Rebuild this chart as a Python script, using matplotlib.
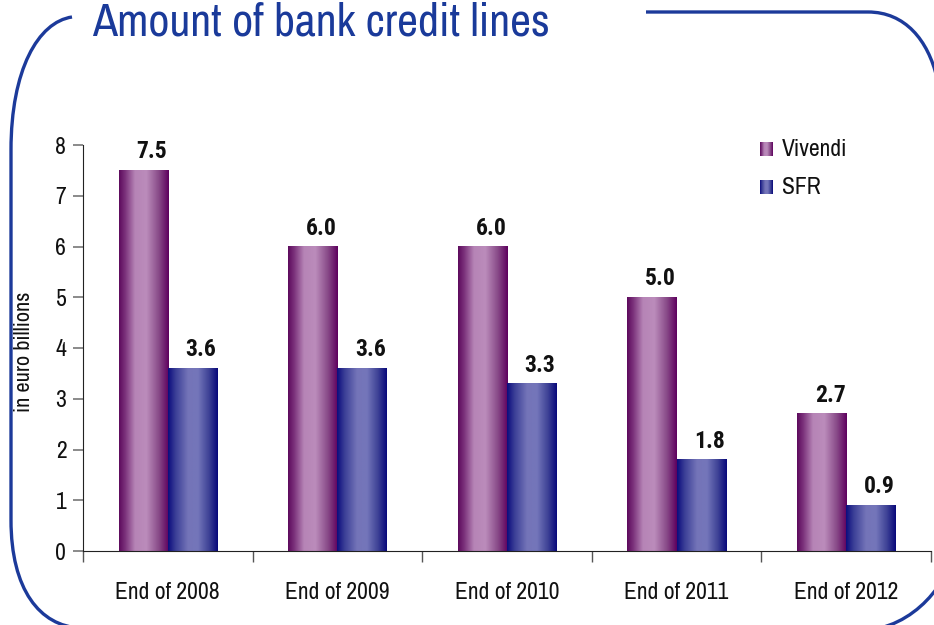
import numpy as np
import matplotlib
matplotlib.use("Agg")
import matplotlib.pyplot as plt
from matplotlib.colors import LinearSegmentedColormap
from matplotlib.path import Path
from matplotlib.patches import PathPatch
from matplotlib import font_manager as fm

have = {f.name for f in fm.fontManager.ttflist}
bold_have = {f.name for f in fm.fontManager.ttflist if f.weight in (600, 700, 'bold', 'semibold')}
wanted = ['Liberation Sans Narrow', 'Archivo Narrow', 'Roboto Condensed', 'PT Sans Narrow',
          'Sofia Sans Condensed', 'Saira SemiCondensed']
fams = [f for f in wanted if f in have] + ['DejaVu Sans']
bold_wanted = ['Liberation Sans Narrow', 'Archivo Narrow', 'Roboto Condensed', 'PT Sans Narrow',
               'Fira Sans Condensed', 'Barlow Condensed', 'Sofia Sans Condensed']
bold_fams = [f for f in bold_wanted if f in bold_have] + fams
plt.rcParams['font.family'] = fams

categories = ["End of 2008", "End of 2009", "End of 2010", "End of 2011", "End of 2012"]
series_names = ["Vivendi", "SFR"]
vivendi = [7.5, 6.0, 6.0, 5.0, 2.7]
sfr = [3.6, 3.6, 3.3, 1.8, 0.9]
value_labels_v = ["7.5", "6.0", "6.0", "5.0", "2.7"]
value_labels_s = ["3.6", "3.6", "3.3", "1.8", "0.9"]
yticks = [0, 1, 2, 3, 4, 5, 6, 7, 8]
title = "Amount of bank credit lines"
ylabel = "in euro billions"

W, H = 934, 625
fig = plt.figure(figsize=(W / 100, H / 100), dpi=100)

# Frame overlay (pixel coords)
ov = fig.add_axes([0, 0, 1, 1])
ov.set_xlim(0, W)
ov.set_ylim(H, 0)
ov.axis('off')
blue = '#1c3a9a'
M, L, C = Path.MOVETO, Path.LINETO, Path.CURVE4
verts = [(72, 17), (38, 22), (11, 70), (11, 150),
         (11, 520),
         (11, 590), (40, 626), (80, 628)]
codes = [M, C, C, C, L, C, C, C]
ov.add_patch(PathPatch(Path(verts, codes), fill=False, edgecolor=blue, lw=2.4))
verts2 = [(880, 628), (905, 622), (925, 605), (937, 588)]
ov.add_patch(PathPatch(Path(verts2, [M, C, C, C]), fill=False, edgecolor=blue, lw=2.4))
verts3 = [(646, 12), (868, 12), (905, 12), (928, 40), (937, 78)]
ov.add_patch(PathPatch(Path(verts3, [M, L, C, C, C]), fill=False, edgecolor=blue, lw=2.4))
ov.text(92, 36, title, fontsize=33, color='#1a3a9a', ha='left', va='baseline')

# Main axes
ax = fig.add_axes([83 / W, 1 - 551 / H, (931 - 83) / W, (551 - 145) / H])
x = np.arange(len(categories))
bw = 0.29
cm_v = LinearSegmentedColormap.from_list('v', [(0, '#5c0a5c'), (0.12, '#7a307a'), (0.32, '#b684b6'),
                                                (0.55, '#bb8cbb'), (0.8, '#884a88'), (1.0, '#5e005e')])
cm_s = LinearSegmentedColormap.from_list('s', [(0, '#0c0c7e'), (0.15, '#3a3e96'), (0.4, '#7474b8'),
                                                (0.6, '#7476ba'), (0.82, '#3e4296'), (1.0, '#08087a')])
grad = np.linspace(0, 1, 256).reshape(1, -1)

bars_v = ax.bar(x - bw / 2, vivendi, bw, color='none', zorder=2)
bars_s = ax.bar(x + bw / 2, sfr, bw, color='none', zorder=2)
for bars, cm in ((bars_v, cm_v), (bars_s, cm_s)):
    for b in bars:
        x0, w, h = b.get_x(), b.get_width(), b.get_height()
        ax.imshow(grad, cmap=cm, extent=(x0, x0 + w, 0, h), aspect='auto', zorder=2,
                  interpolation='bilinear')
ax.set_xlim(-0.5, len(categories) - 0.5)
ax.set_ylim(0, 8)

for bars, labs in ((bars_v, value_labels_v), (bars_s, value_labels_s)):
    for b, lab in zip(bars, labs):
        ax.annotate(lab, (b.get_x() + b.get_width() / 2 + 0.05, b.get_height()),
                    xytext=(0, 5), textcoords='offset points', ha='center', va='bottom',
                    fontsize=17, fontweight='bold', color='#111111', family=bold_fams)

ax.set_xticks(x)
ax.set_xticklabels(categories, fontsize=17, color='#111111')
ax.set_xticks(np.arange(-0.5, len(categories)), minor=True)
ax.tick_params(axis='x', which='major', length=0, pad=22)
ax.tick_params(axis='x', which='minor', length=8, width=1, color='#555555', direction='out')
ax.set_yticks(yticks)
ax.set_yticklabels([str(v) for v in yticks], fontsize=17, color='#111111')
ax.tick_params(axis='y', length=7, width=1.2, color='#777777', pad=5)
for s in ('top', 'right'):
    ax.spines[s].set_visible(False)
ax.spines['left'].set_color('#222222')
ax.spines['bottom'].set_color('#222222')
ax.set_facecolor('none')
fig.text(24 / W, 1 - 352 / H, ylabel, rotation=90, fontsize=16, ha='center', va='center', color='#111111')

# legend (custom, pixel coords)
for i, (name, cm) in enumerate(((series_names[0], cm_v), (series_names[1], cm_s))):
    y0 = 149 + i * 38
    ov.imshow(grad, cmap=cm, extent=(760, 773, y0 + 7, y0 - 7), aspect='auto', zorder=3)
    ov.text(782, y0, name, fontsize=17, va='center', ha='left', color='#111111')
ov.set_xlim(0, W)
ov.set_ylim(H, 0)

fig.savefig('out.png', dpi=100)
